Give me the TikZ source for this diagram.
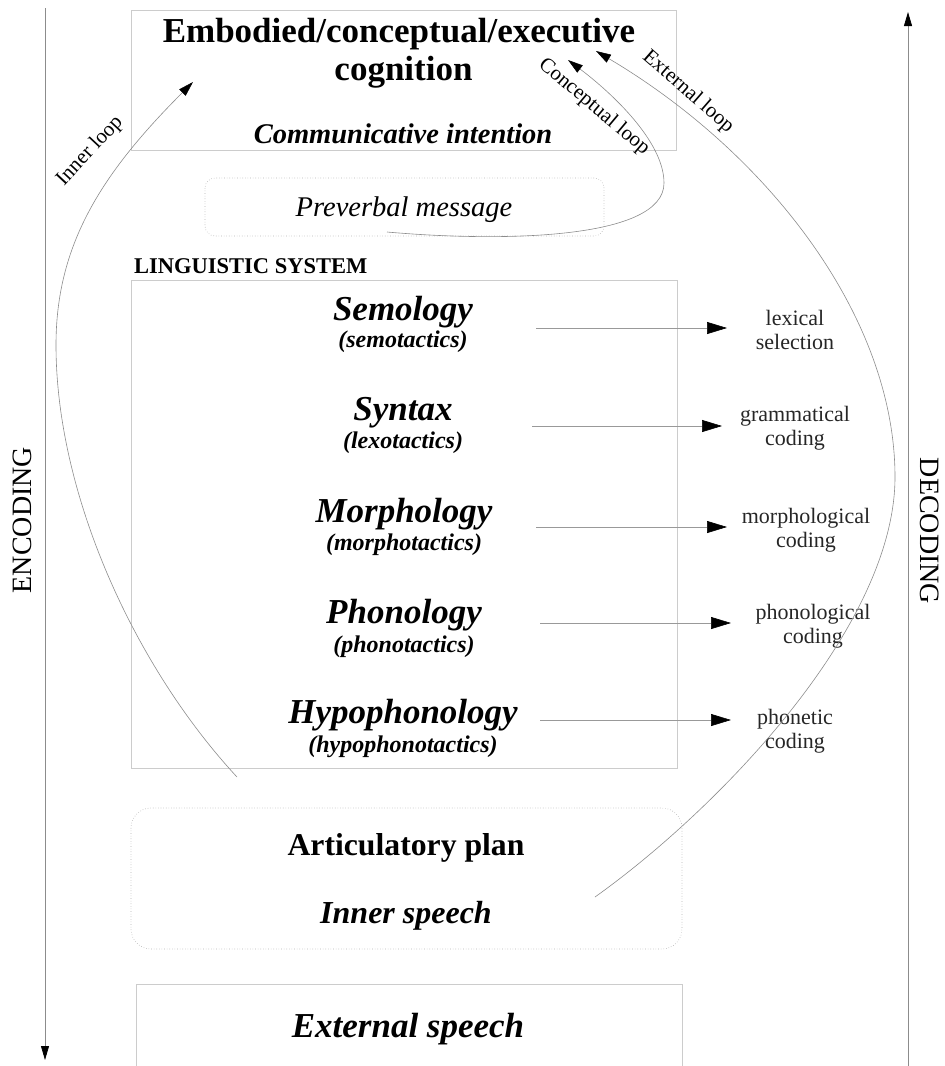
\documentclass[tikz,border=0pt]{standalone}
\usepackage{fontspec}
\setmainfont{Liberation Serif}
\usetikzlibrary{arrows.meta}

\newcommand{\fsize}[1]{\fontsize{#1}{#1}\selectfont}

\begin{document}
\begin{tikzpicture}[x=1pt,y=-1pt,
  box/.style={draw=black!20,line width=0.9pt},
  softbox/.style={draw=black!30,dotted,line width=0.6pt},
  axis/.style={draw=black!45,line width=0.8pt,-{Triangle[length=14pt,width=8pt,color=black]}},
  loopline/.style={draw=black!45,line width=0.6pt,-{Triangle[length=15pt,width=9pt,color=black]}},
  levelarrow/.style={draw=black!40,line width=0.6pt,-{Triangle[length=20pt,width=12pt,color=black]}},
  level/.style={anchor=base,font=\fsize{35}\bfseries\itshape},
  tactics/.style={anchor=base,font=\fsize{24}\bfseries\itshape},
  coding/.style={anchor=base,align=center,text=black!85,font=\fontsize{22}{24}\selectfont},
  looplabel/.style={font=\fsize{21}}]

\useasboundingbox (0,0) rectangle (945,1066);

% encoding / decoding
\coordinate (encTop) at (45,8);
\coordinate (encBot) at (45,1060);
\coordinate (decBot) at (908,1066);
\coordinate (decTop) at (908,12);
\draw[axis] (encTop) -- (encBot);
\draw[axis] (decBot) -- (decTop);
\node[rotate=90,font=\fsize{28}] (encoding) at (22,520) {ENCODING};
\node[rotate=-90,font=\fsize{28}] (decoding) at (930,531) {DECODING};

% cognition
\draw[box] (131,10) rectangle (676,150);
\node[anchor=base,font=\fsize{35}\bfseries] (cog) at (399,42) {Embodied/conceptual/executive};
\node[anchor=base,font=\fsize{35}\bfseries] (cogb) at (403.5,80) {cognition};
\node[anchor=base,font=\fsize{28.5}\bfseries\itshape] (intent) at (403,143) {Communicative intention};

\draw[softbox,rounded corners=10pt] (205,178) rectangle (604,236);
\node[anchor=base,font=\fsize{28.5}\itshape] (preverbal) at (404,216) {Preverbal message};

% linguistic system
\node[anchor=base west,inner sep=0pt,font=\fsize{22.5}\bfseries] (lingsys) at (134,273) {LINGUISTIC SYSTEM};
\draw[box] (131,280) rectangle (677,768);

\node[level] (semology) at (403,320) {Semology};
\node[tactics] (semotac) at (403,347) {(semotactics)};
\node[level] (syntax) at (403,420) {Syntax};
\node[tactics] (lexotac) at (403,448) {(lexotactics)};
\node[level] (morphology) at (404,522) {Morphology};
\node[tactics] (morphotac) at (404,550) {(morphotactics)};
\node[level] (phonology) at (404,623) {Phonology};
\node[tactics] (phonotac) at (404,652) {(phonotactics)};
\node[level] (hypophon) at (403,723) {Hypophonology};
\node[tactics] (hypotac) at (403,752) {(hypophonotactics)};

\foreach \n/\y/\xa/\xb in {sem/328/536/727,syn/426/532/722,mor/527/536/727,pho/623/540/731,hyp/720/540/731}{
  \coordinate (\n A) at (\xa,\y);
  \coordinate (\n B) at (\xb,\y);
  \draw[levelarrow] (\n A) -- (\n B);
}

% base = last line
\node[coding] (lexsel) at (795,349) {lexical\\selection};
\node[coding] (gramcod) at (795,445) {grammatical\\coding};
\node[coding] (morphcod) at (806,547) {morphological\\coding};
\node[coding] (phoncod) at (813,643) {phonological\\coding};
\node[coding] (phonetcod) at (795,748) {phonetic\\coding};

% articulation
\draw[softbox,rounded corners=20pt] (131,808) rectangle (682,949);
\node[anchor=base,font=\fsize{31.7}\bfseries] (artic) at (406,855) {Articulatory plan};
\node[anchor=base,font=\fsize{32}\bfseries\itshape] (inner) at (406,923) {Inner speech};

\draw[box] (136,1066) -- (136,984) -- (682,984) -- (682,1066);
\node[anchor=base,font=\fsize{35}\bfseries\itshape] (external) at (408,1037) {External speech};

% loops
\coordinate (innerStart) at (237,777);
\coordinate (innerEnd) at (193,82);
\draw[loopline] (innerStart) .. controls (135,667) and (56,495) .. (56,345) .. controls (56,245) and (101,174) .. (innerEnd);
\node[looplabel,rotate=47] (innerlbl) at (90,151) {Inner loop};

\coordinate (concStart) at (387,232);
\coordinate (concEnd) at (568,60);
\draw[loopline] (concStart) .. controls (500,242) and (664,240) .. (664,183) .. controls (664,140) and (608,90) .. (concEnd);
\node[looplabel,rotate=-40] (conclbl) at (594,107) {Conceptual loop};

\coordinate (extStart) at (595,897);
\coordinate (extEnd) at (596,51);
\draw[loopline] (extStart) .. controls (717,810) and (895,627) .. (895,477) .. controls (895,317) and (768,153) .. (extEnd);
\node[looplabel,rotate=-41] (extlbl) at (688,92) {External loop};

\end{tikzpicture}
\end{document}
